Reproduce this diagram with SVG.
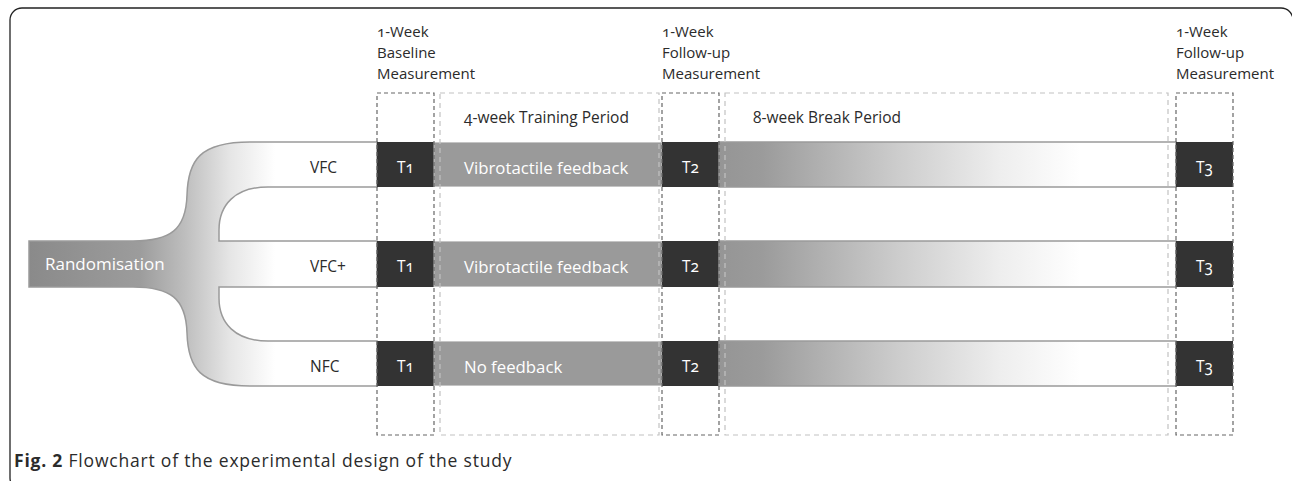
<svg xmlns="http://www.w3.org/2000/svg" width="1292" height="481" viewBox="0 0 1292 481">
<style>
.t{font-family:"Open Sans","Liberation Sans",sans-serif;fill:#2b2b2b}
.hd{font-size:15px;font-variant-numeric:oldstyle-nums}
.lb{font-size:15.5px}
.bl{font-size:16.8px}
.w{fill:#ffffff}
.tb{fill:#333333}
.tr{fill:#9a9a9a;stroke:#c4c4c4;stroke-width:1}
.dk{fill:none;stroke:#666;stroke-width:1.2;stroke-dasharray:4 3}
.lt{fill:none;stroke:#c2c2c2;stroke-width:1.2;stroke-dasharray:5 4}
.num{font-variant-numeric:oldstyle-nums}
</style>
<defs>
<linearGradient id="gTree" gradientUnits="userSpaceOnUse" x1="29" y1="0" x2="275" y2="0">
<stop offset="0" stop-color="#8a8a8a"/>
<stop offset="0.45" stop-color="#9c9c9c"/>
<stop offset="0.63" stop-color="#bdbdbd"/>
<stop offset="0.82" stop-color="#e6e6e6"/>
<stop offset="1" stop-color="#ffffff"/>
</linearGradient>
<linearGradient id="gBreak" gradientUnits="userSpaceOnUse" x1="719" y1="0" x2="1080" y2="0">
<stop offset="0" stop-color="#959595"/>
<stop offset="0.12" stop-color="#9b9b9b"/>
<stop offset="0.5" stop-color="#cdcdcd"/>
<stop offset="0.78" stop-color="#eeeeee"/>
<stop offset="1" stop-color="#ffffff"/>
</linearGradient>
</defs>

<rect id="frame" x="10" y="8" width="1283" height="482" rx="12" fill="none" stroke="#222" stroke-width="1.3"/>

<g id="headers">
<text class="t hd" x="377" y="37">1-Week</text>
<text class="t hd" x="377" y="58">Baseline</text>
<text class="t hd" x="377" y="79">Measurement</text>
<text class="t hd" x="662" y="37">1-Week</text>
<text class="t hd" x="662" y="58">Follow-up</text>
<text class="t hd" x="662" y="79">Measurement</text>
<text class="t hd" x="1176" y="37">1-Week</text>
<text class="t hd" x="1176" y="58">Follow-up</text>
<text class="t hd" x="1176" y="79">Measurement</text>
<text class="t lb num" x="464" y="123">4-week Training Period</text>
<text class="t lb num" x="753" y="123">8-week Break Period</text>
</g>

<g id="connectors">
<path id="randomisation-tree" d="M29 241 L133 241 C170 241 186 230 187 195 C188 160 200 142 250 142 L377 142 L377 187 L268 187 C235 187 219 205 219 230 L219 241 L377 241 L377 287 L219 287 L219 298 C219 323 235 341 268 341 L377 341 L377 386 L250 386 C200 386 188 368 187 333 C186 298 170 287 133 287 L29 287 Z" fill="url(#gTree)" stroke="#9a9a9a" stroke-width="1.5"/>
</g>

<g id="randomisation">
<text class="t w" x="45" y="270" font-size="17">Randomisation</text>
</g>

<g id="row-vfc">
<text class="t lb" x="310" y="173">VFC</text>
<rect class="tb" x="377" y="142" width="57" height="45"/>
<rect class="tr" x="434" y="142.5" width="228" height="44"/>
<rect class="tb" x="662" y="142" width="57" height="45"/>
<rect x="719" y="142" width="457" height="45" fill="url(#gBreak)" stroke="#9a9a9a" stroke-width="1.5"/>
<rect class="tb" x="1176" y="142" width="57" height="45"/>
<text class="t w bl" x="464" y="174">Vibrotactile feedback</text>
<text class="t w lb num" x="405.5" y="173" text-anchor="middle">T1</text>
<text class="t w lb num" x="690.5" y="173" text-anchor="middle">T2</text>
<text class="t w lb num" x="1204.5" y="173" text-anchor="middle">T3</text>
</g>

<g id="row-vfcplus">
<text class="t lb" x="310" y="272">VFC+</text>
<rect class="tb" x="377" y="241" width="57" height="46"/>
<rect class="tr" x="434" y="241.5" width="228" height="45"/>
<rect class="tb" x="662" y="241" width="57" height="46"/>
<rect x="719" y="241" width="457" height="46" fill="url(#gBreak)" stroke="#9a9a9a" stroke-width="1.5"/>
<rect class="tb" x="1176" y="241" width="57" height="46"/>
<text class="t w bl" x="464" y="273">Vibrotactile feedback</text>
<text class="t w lb num" x="405.5" y="272" text-anchor="middle">T1</text>
<text class="t w lb num" x="690.5" y="272" text-anchor="middle">T2</text>
<text class="t w lb num" x="1204.5" y="272" text-anchor="middle">T3</text>
</g>

<g id="row-nfc">
<text class="t lb" x="310" y="372">NFC</text>
<rect class="tb" x="377" y="341" width="57" height="45"/>
<rect class="tr" x="434" y="341.5" width="228" height="44"/>
<rect class="tb" x="662" y="341" width="57" height="45"/>
<rect x="719" y="341" width="457" height="45" fill="url(#gBreak)" stroke="#9a9a9a" stroke-width="1.5"/>
<rect class="tb" x="1176" y="341" width="57" height="45"/>
<text class="t w bl" x="464" y="373">No feedback</text>
<text class="t w lb num" x="405.5" y="372" text-anchor="middle">T1</text>
<text class="t w lb num" x="690.5" y="372" text-anchor="middle">T2</text>
<text class="t w lb num" x="1204.5" y="372" text-anchor="middle">T3</text>
</g>

<g id="phase-boxes">
<rect class="dk" x="377" y="93" width="57" height="342"/>
<rect class="lt" x="440" y="93" width="219" height="342"/>
<rect class="dk" x="662" y="93" width="57" height="342"/>
<rect class="lt" x="725" y="93" width="443" height="342"/>
<rect class="dk" x="1176" y="93" width="57" height="342"/>
</g>

<g id="caption">
<text class="t" x="14" y="467" font-size="17.5" letter-spacing="0.8" fill="#222"><tspan font-weight="bold">Fig. 2</tspan> Flowchart of the experimental design of the study</text>
</g>
</svg>
